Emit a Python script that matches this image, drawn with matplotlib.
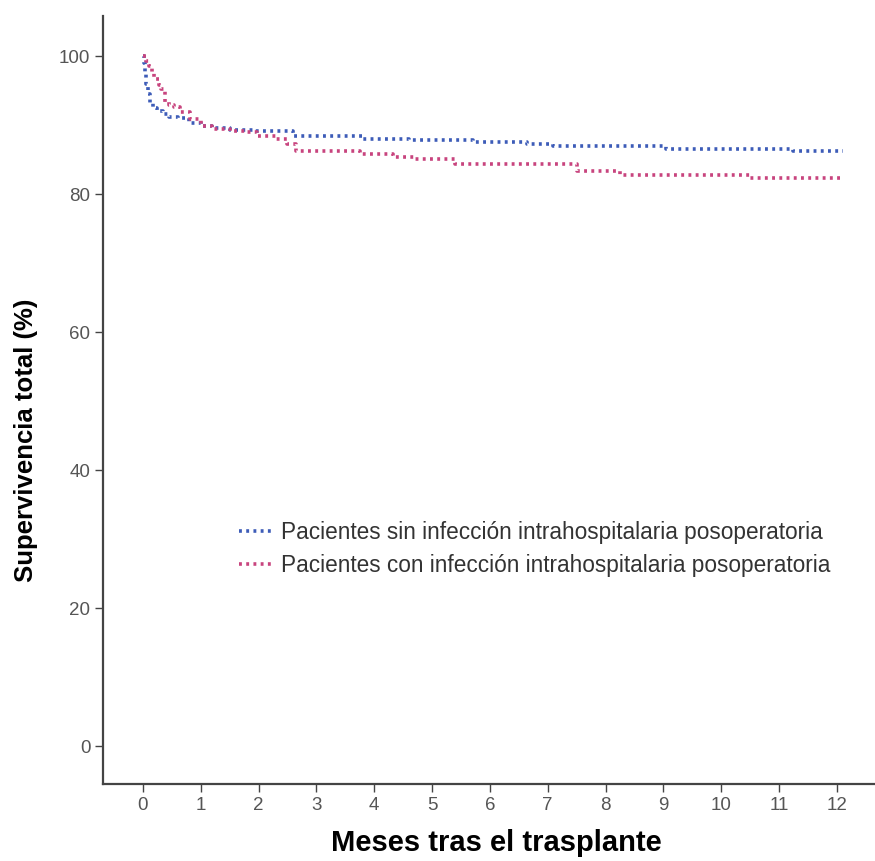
import numpy as np
import matplotlib.pyplot as plt
from matplotlib.lines import Line2D

plt.rcParams['font.family'] = ['Liberation Sans', 'DejaVu Sans']

# Kaplan-Meier style step data (months, % survival)
t_sin = [0, 0.02, 0.04, 0.06, 0.09, 0.12, 0.18, 0.25, 0.35, 0.45, 0.6, 0.8,
         1.0, 1.2, 1.5, 1.9, 2.6, 3.8, 4.6, 5.7, 6.65, 7.1, 9.05, 11.25, 12.1]
s_sin = [100, 99, 97.7, 96, 94.5, 93.2, 92.5, 92.0, 91.6, 91.2, 91.0, 90.3,
         89.9, 89.6, 89.3, 89.1, 88.4, 88.0, 87.8, 87.5, 87.3, 87.0, 86.6, 86.2, 86.2]

t_con = [0, 0.05, 0.1, 0.15, 0.2, 0.27, 0.32, 0.38, 0.45, 0.53, 0.64, 0.81,
         1.0, 1.2, 1.5, 1.8, 1.97, 2.3, 2.5, 2.65, 3.75, 4.33, 4.7, 5.4, 7.5,
         8.25, 10.5, 12.1]
s_con = [100, 99.3, 98.6, 97.6, 96.7, 95.8, 95.2, 93.3, 92.9, 92.6, 91.9, 90.9,
         89.8, 89.4, 89.1, 89.0, 88.4, 88.0, 87.2, 86.3, 85.8, 85.3, 85.05, 84.3,
         83.4, 82.7, 82.3, 82.3]

labels = ['Pacientes sin infección intrahospitalaria posoperatoria',
          'Pacientes con infección intrahospitalaria posoperatoria']
colors = ['#3d5cb8', '#c8447e']

fig = plt.figure(figsize=(8.75, 8.61), dpi=100)
ax = fig.add_axes([0.1177, 0.0894, 0.8823, 0.892])

dots = (0, (0.8, 1.2))
ax.plot(t_sin, s_sin, drawstyle='steps-post', color=colors[0], lw=2.6, linestyle=dots)
ax.plot(t_con, s_con, drawstyle='steps-post', color=colors[1], lw=2.6, linestyle=dots)

ax.set_xlim(-0.69, 12.66)
ax.set_ylim(-5.5, 105.8)
ax.set_xticks(range(0, 13))
ax.set_yticks([0, 20, 40, 60, 80, 100])

for side in ['top', 'right']:
    ax.spines[side].set_visible(False)
for side in ['left', 'bottom']:
    ax.spines[side].set_color('#444444')
    ax.spines[side].set_linewidth(1.6)

ax.tick_params(direction='out', length=6, width=1, color='#444444',
               labelcolor='#555555', labelsize=13.5, pad=3)

ax.set_xlabel('Meses tras el trasplante', fontsize=21, fontweight='bold')
ax.set_ylabel('Supervivencia total (%)', fontsize=18.5, fontweight='bold')
ax.xaxis.set_label_coords(0.51, -0.058)
ax.yaxis.set_label_coords(-0.084, 0.448)

handles = [Line2D([], [], color=c, lw=2.6, linestyle=dots) for c in colors]
ax.legend(handles, labels, loc='center left', bbox_to_anchor=(0.15, 0.306),
          frameon=False, fontsize=16.3, handlelength=1.6, handletextpad=0.25,
          labelspacing=0.45, labelcolor='#333333')

fig.savefig('out.png', dpi=100)
